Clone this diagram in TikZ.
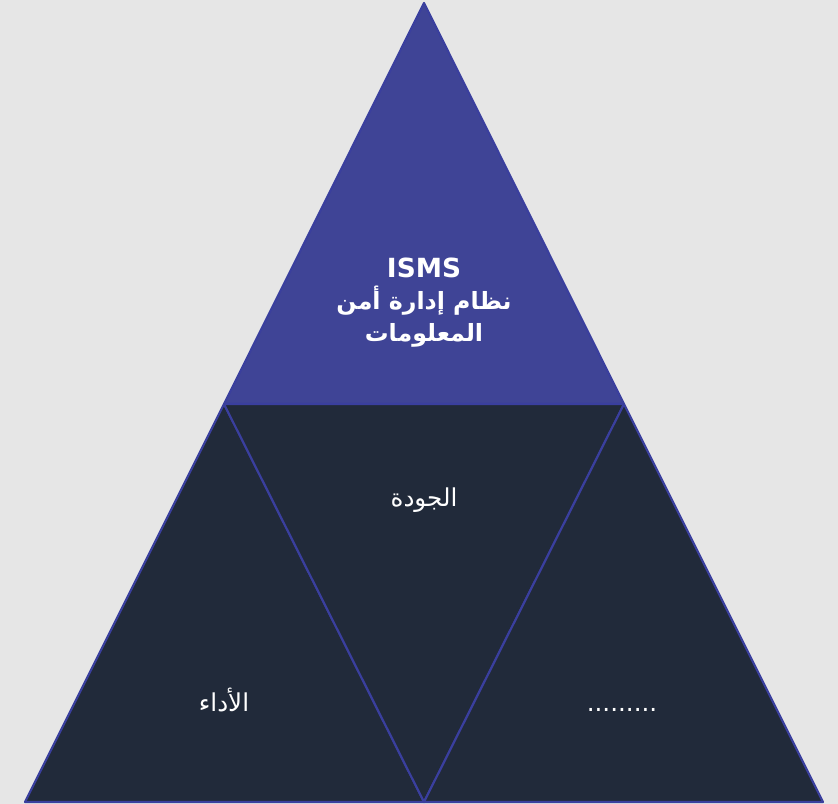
\documentclass[tikz,border=0pt]{standalone}
\usepackage{fontspec}
\setmainfont{DejaVu Sans}
\newfontfamily\arabicfont[Script=Arabic]{DejaVu Sans}
\TeXXeTstate=1
\definecolor{bgrey}{HTML}{E6E6E6}
\definecolor{ispurple}{HTML}{3F4496}
\definecolor{edgeblue}{HTML}{3A3F9E}
\definecolor{darknavy}{HTML}{212A3A}
\begin{document}
\begin{tikzpicture}[
        part/.style={draw=edgeblue, line width=1.2pt, line join=round},
        toppart/.style={part, fill=ispurple},
        lowpart/.style={part, fill=darknavy},
        lbl/.style={text=white, align=center, inner sep=0pt}
      ]
      \useasboundingbox[fill=bgrey] (0, 0) rectangle (16.76, 16.08);
      % corners
      \coordinate (apex) at (8.48, 16.02);
      \coordinate (ml) at (4.48, 8.0);
      \coordinate (mr) at (12.48, 8.0);
      \coordinate (bl) at (0.5, 0.04);
      \coordinate (bm) at (8.48, 0.04);
      \coordinate (br) at (16.46, 0.04);
      % top part
      \filldraw[toppart] (apex) -- (ml) -- (mr) -- cycle;
      % lower parts
      \filldraw[lowpart] (ml) -- (bl) -- (bm) -- cycle;
      \filldraw[lowpart] (ml) -- (mr) -- (bm) -- cycle;
      \filldraw[lowpart] (mr) -- (bm) -- (br) -- cycle;
      % labels
      \node[lbl, font=\bfseries\fontsize{15}{18}\selectfont] at (8.48, 10.03) (isms)
        {ISMS\\ {\arabicfont\fontsize{13.5}{18}\selectfont\beginR نظام إدارة أمن\endR}\\
         {\arabicfont\fontsize{13.5}{18}\selectfont\beginR المعلومات\endR}};
      \node[lbl, font=\fontsize{14}{17}\selectfont] at (8.48, 6.08) (quality)
        {\arabicfont\beginR الجودة\endR};
      \node[lbl, font=\fontsize{14}{17}\selectfont] at (4.48, 2.08) (perf)
        {\arabicfont\beginR الأداء\endR};
      \node[lbl, font=\fontsize{14}{17}\selectfont] at (12.44, 1.88) (other) {.........};
  \end{tikzpicture}
\end{document}
